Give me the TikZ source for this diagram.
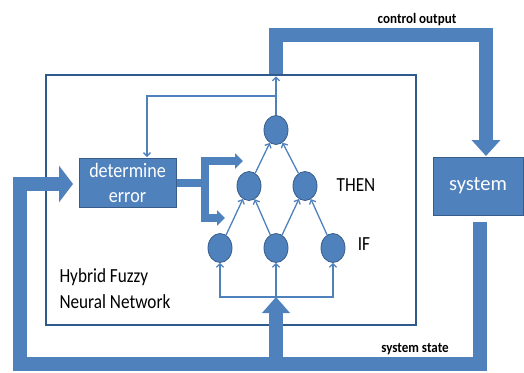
\documentclass[tikz,border=0pt]{standalone}
\usepackage{fontspec}
\setmainfont{Carlito}
\newfontfamily\boxfont[FakeStretch=0.88]{Carlito}
\newfontfamily\plainfont[FakeStretch=0.86]{Carlito}
\newfontfamily\lblfont[FakeStretch=0.9]{Carlito Bold}
\usetikzlibrary{arrows.meta,shapes.geometric,calc}
\definecolor{obl}{HTML}{4F81BD}
\definecolor{obd}{HTML}{385D8A}
\definecolor{frm}{HTML}{2F5A8C}
\tikzset{
  thickline/.style={line width=14pt, obl},
  bigtip/.style={-{Triangle[length=16pt,width=28pt]}},
  midline/.style={line width=8pt, obl},
  midtip/.style={-{Triangle[length=8pt,width=15pt]}},
  thinline/.style={line width=1.3pt, obl, -{Straight Barb[length=3.5pt,width=7pt]}},
  neuron/.style={ellipse, fill=obl, draw=obd, line width=0.8pt, minimum width=24pt, minimum height=29pt, inner sep=0pt},
  bluebox/.style={rectangle, fill=obl, draw=obd, line width=1pt, text=white, align=center},
  plain/.style={text=black, font=\plainfont\fontsize{20}{26}\selectfont},
  small/.style={text=black, font=\lblfont\fontsize{14.5}{16}\selectfont}
}
\begin{document}
\begin{tikzpicture}[x=1pt,y=-1pt]
\useasboundingbox (0,0) rectangle (524,372);
% frame
\node[draw=frm, line width=1.2pt, minimum width=370pt, minimum height=250pt, inner sep=0pt] (hf) at (231,200) {};
% boxes
\node[bluebox, minimum width=97pt, minimum height=49pt, font=\boxfont\fontsize{20.5}{25}\selectfont] (err) at (127.5,182.5) {determine\\error};
\node[bluebox, minimum width=90pt, minimum height=58pt, font=\fontsize{20.5}{24}\selectfont] (sys) at (478,186) {system};
% neurons
\node[neuron] (t) at (276,130) {};
\node[neuron] (l2) at (249,186) {};
\node[neuron] (r2) at (305,186) {};
\node[neuron] (i1) at (220,248) {};
\node[neuron] (i2) at (276,248) {};
\node[neuron] (i3) at (333,248) {};
% coordinates
\coordinate (co) at (276,35);
\coordinate (co2) at (486,35);
\coordinate (sysin) at (486,156);
\coordinate (sysout) at (480,222);
\coordinate (bbr) at (480,364);
\coordinate (bbl) at (20,364);
\coordinate (lup) at (20,184);
\coordinate (errin) at (73,184);
\coordinate (bbm) at (276,364);
\coordinate (inp) at (276,297);
\coordinate (fork) at (205,182.5);
\coordinate (up) at (243,161);
\coordinate (dn) at (225,218);
\coordinate (br) at (276,96);
\coordinate (en) at (147,157);
% thick connectors
\draw[thickline, bigtip] (t |- hf.north) -- (co) -- (co2) -- (sysin);
\draw[thickline, -{Triangle[length=14pt,width=36pt]}] (sysout) -- (bbr) -- (bbl) -- (lup) -- (errin);
\draw[thickline, -{Triangle[length=16pt,width=27pt]}] (bbm) -- (inp);
% fork
\draw[midline] (err.east) -- (fork);
\draw[midline, midtip] (fork) |- (up);
\draw[midline, midtip] (fork) |- (dn);
% thin connectors
\draw[thinline] (t.north) -- ($(t |- hf.north)+(0,2)$);
\draw[thinline] (br) -| (en);
\draw[thinline] (l2) -- (t);
\draw[thinline] (r2) -- (t);
\draw[thinline] (i1) -- (l2);
\draw[thinline] (i2) -- (l2);
\draw[thinline] (i2) -- (r2);
\draw[thinline] (i3) -- (r2);
\draw[thinline] (inp) -| (i1.south);
\draw[thinline] (inp) -| (i3.south);
\draw[thinline] (inp) -- (i2.south);
% labels
\node[plain] (then) at (356,185) {THEN};
\node[plain] (if) at (364,244) {IF};
\node[plain, anchor=west, align=left] (hfl) at (56,289) {Hybrid Fuzzy\\Neural Network};
\node[small] (col) at (417,20) {control output};
\node[small] (ssl) at (415,349) {system state};
\end{tikzpicture}
\end{document}
